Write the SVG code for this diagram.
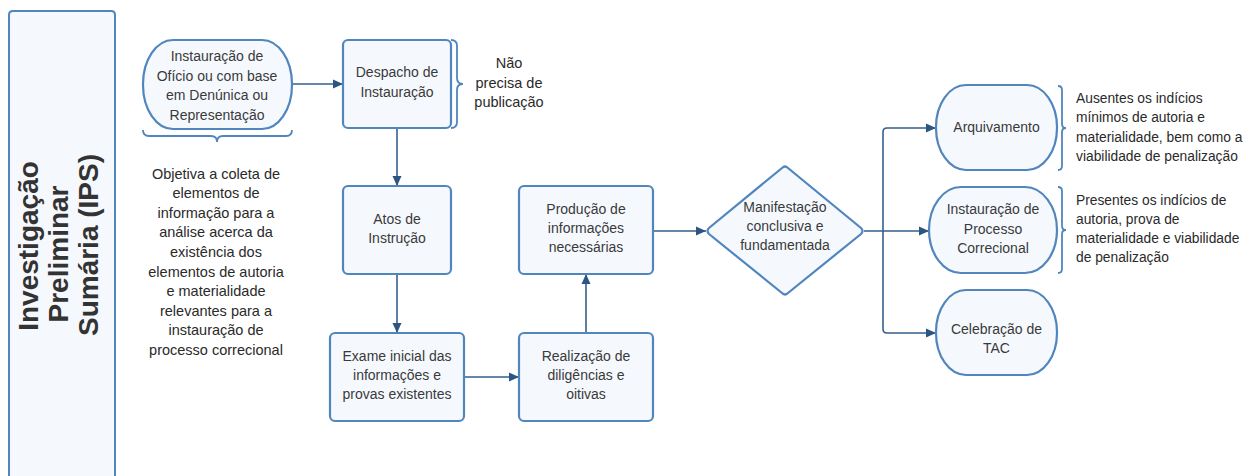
<svg xmlns="http://www.w3.org/2000/svg" width="1251" height="476" viewBox="0 0 1251 476">
<defs>
<marker id="ah" viewBox="0 0 10 10" refX="10" refY="5" markerWidth="10" markerHeight="10" markerUnits="userSpaceOnUse" orient="auto">
<path d="M0,0.5 L10,5 L0,9.5 Z" fill="#2b5583"/>
</marker>
</defs>
<style>
.n{fill:#f5f9fe;stroke:#5185bd;stroke-width:2.2}
.br{fill:none;stroke:#5185bd;stroke-width:1.8}
.c{fill:none;stroke:#345f8c;stroke-width:1.6}
.t{font-family:"Liberation Sans",Arial,sans-serif;font-size:14px;fill:#3a3a3a;text-anchor:middle}
.f{font-family:"Liberation Sans",Arial,sans-serif;font-size:14.5px;fill:#2a2a2a;text-anchor:middle}
.r{font-family:"Liberation Sans",Arial,sans-serif;font-size:13.8px;fill:#2a2a2a;text-anchor:start}
.h{font-family:"Liberation Sans",Arial,sans-serif;font-size:28px;font-weight:bold;fill:#333;text-anchor:middle}
</style>
<rect width="1251" height="476" fill="#ffffff"/>

<g id="lane">
<path d="M9,490 V15 Q9,11 13,11 H111 Q115,11 115,15 V490" fill="#f5f9fe" stroke="#5185bd" stroke-width="2"/>
<text class="h" transform="translate(38,246) rotate(-90)">Investigação</text>
<text class="h" transform="translate(68,254) rotate(-90)">Preliminar</text>
<text class="h" transform="translate(98,245) rotate(-90)">Sumária (IPS)</text>
</g>

<g id="connectors">
<path class="c" d="M291,84 H343" marker-end="url(#ah)"/>
<path class="c" d="M397,128 V186" marker-end="url(#ah)"/>
<path class="c" d="M397,274 V333" marker-end="url(#ah)"/>
<path class="c" d="M464,377 H519" marker-end="url(#ah)"/>
<path class="c" d="M586,333 V274" marker-end="url(#ah)"/>
<path class="c" d="M653,231 H706" marker-end="url(#ah)"/>
<path class="c" d="M864,231 H929" marker-end="url(#ah)"/>
<path class="c" d="M883,231 V132 Q883,128 887,128 H936" marker-end="url(#ah)"/>
<path class="c" d="M883,231 V329 Q883,333 887,333 H936" marker-end="url(#ah)"/>
</g>

<g id="n-inicio">
<rect class="n" x="143" y="40" width="149" height="89" rx="30" ry="44"/>
<text class="t" x="217" y="61">Instauração de</text>
<text class="t" x="217" y="81">Ofício ou com base</text>
<text class="t" x="217" y="100">em Denúnica ou</text>
<text class="t" x="217" y="120">Representação</text>
<path class="br" d="M143,130 Q143,136 149,136 H211 Q217,136 217,142 Q217,136 223,136 H286 Q292,136 292,130"/>
</g>

<g id="n-objetiva">
<text class="f" x="216" y="178.5">Objetiva a coleta de</text>
<text class="f" x="216" y="198">elementos de</text>
<text class="f" x="216" y="217.5">informação para a</text>
<text class="f" x="216" y="237">análise acerca da</text>
<text class="f" x="216" y="257">existência dos</text>
<text class="f" x="216" y="276.5">elementos de autoria</text>
<text class="f" x="216" y="296">e materialidade</text>
<text class="f" x="216" y="315.5">relevantes para a</text>
<text class="f" x="216" y="335">instauração de</text>
<text class="f" x="216" y="354.5">processo correcional</text>
</g>

<g id="n-despacho">
<rect class="n" x="343" y="40" width="108" height="88" rx="5"/>
<text class="t" x="397" y="77">Despacho de</text>
<text class="t" x="397" y="97">Instauração</text>
<path class="br" d="M451,40 Q457,40 457,46 V78 Q457,84 463,84 Q457,84 457,90 V122 Q457,128 451,128"/>
<text class="f" x="509" y="68">Não</text>
<text class="f" x="509" y="88">precisa de</text>
<text class="f" x="509" y="107">publicação</text>
</g>

<g id="n-atos">
<rect class="n" x="343" y="186" width="108" height="88" rx="5"/>
<text class="t" x="397" y="224">Atos de</text>
<text class="t" x="397" y="243">Instrução</text>
</g>

<g id="n-exame">
<rect class="n" x="330" y="333" width="134" height="88" rx="5"/>
<text class="t" x="397" y="361">Exame inicial das</text>
<text class="t" x="397" y="380">informações e</text>
<text class="t" x="397" y="399">provas existentes</text>
</g>

<g id="n-realizacao">
<rect class="n" x="519" y="333" width="134" height="88" rx="5"/>
<text class="t" x="586" y="361">Realização de</text>
<text class="t" x="586" y="380">diligências e</text>
<text class="t" x="586" y="399">oitivas</text>
</g>

<g id="n-producao">
<rect class="n" x="519" y="186" width="134" height="88" rx="5"/>
<text class="t" x="586" y="214">Produção de</text>
<text class="t" x="586" y="233">informações</text>
<text class="t" x="586" y="252">necessárias</text>
</g>

<g id="n-manifestacao">
<path class="n" d="M782,168 Q785,165 788,168 L861,228 Q864,231 861,234 L788,293 Q785,296 782,293 L709,234 Q706,231 709,228 Z"/>
<text class="t" x="785" y="212">Manifestação</text>
<text class="t" x="785" y="231">conclusiva e</text>
<text class="t" x="785" y="250">fundamentada</text>
</g>

<g id="n-arquivamento">
<rect class="n" x="936" y="85" width="121" height="85" rx="30" ry="42"/>
<text class="t" x="996.5" y="132">Arquivamento</text>
<path class="br" d="M1058,86 Q1062,86 1062,90 V124 Q1062,128 1066,128 Q1062,128 1062,132 V166 Q1062,170 1058,170"/>
<text class="r" x="1076" y="103">Ausentes os indícios</text>
<text class="r" x="1076" y="122">mínimos de autoria e</text>
<text class="r" x="1076" y="141.5">materialidade, bem como a</text>
<text class="r" x="1076" y="160.5">viabilidade de penalização</text>
</g>

<g id="n-instauracao">
<rect class="n" x="929" y="187" width="128" height="86" rx="32" ry="43"/>
<text class="t" x="993" y="214">Instauração de</text>
<text class="t" x="993" y="234">Processo</text>
<text class="t" x="993" y="253">Correcional</text>
<path class="br" d="M1058,187 Q1062,187 1062,191 V226 Q1062,230 1066,230 Q1062,230 1062,234 V269 Q1062,273 1058,273"/>
<text class="r" x="1076" y="205">Presentes os indícios de</text>
<text class="r" x="1076" y="224">autoria, prova de</text>
<text class="r" x="1076" y="243">materialidade e viabilidade</text>
<text class="r" x="1076" y="262">de penalização</text>
</g>

<g id="n-tac">
<rect class="n" x="936" y="290" width="121" height="85" rx="30" ry="42"/>
<text class="t" x="996.5" y="334">Celebração de</text>
<text class="t" x="996.5" y="353">TAC</text>
</g>
</svg>
